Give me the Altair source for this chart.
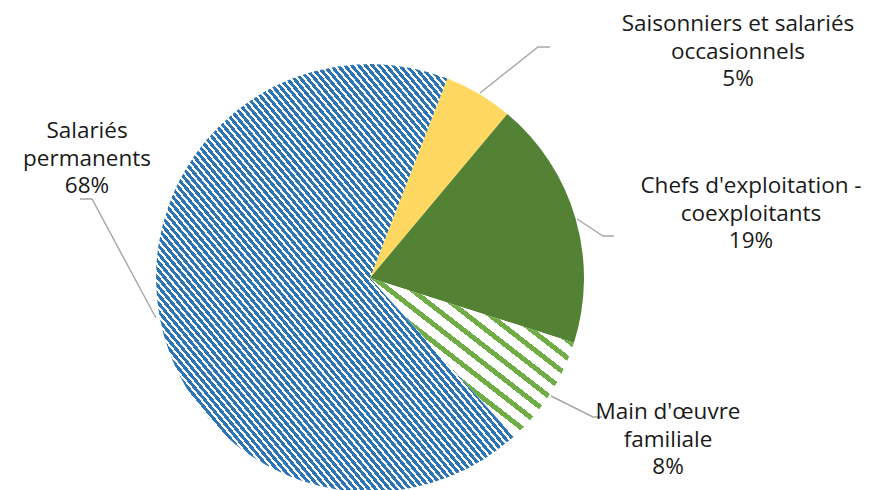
import math
import altair as alt
import pandas as pd

# ---- data ----
categories = ["Saisonniers et salariés occasionnels", "Chefs d'exploitation - coexploitants",
              "Main d'œuvre familiale", "Salariés permanents"]
shares = [5.2, 18.8, 8.4, 67.6]
label_lines = [["Saisonniers et salariés", "occasionnels"],
               ["Chefs d'exploitation -", "coexploitants"],
               ["Main d'œuvre", "familiale"],
               ["Salariés", "permanents"]]

# ---- layout (page pixel coordinates) ----
W, H = 855, 482
CX, CY, R = 370, 278, 214
START = math.radians(21.2)
label_pos = [(738, 24), (751, 186), (668, 412), (87, 131)]
leaders = [
    [(480, 93), (538, 47), (550, 47)],
    [(577, 219), (603, 236), (614, 236)],
    [(551, 396), (593, 417), (602, 417)],
    [(80, 199), (92, 199), (156, 318)],
]

BLUE = "#2E75B6"
YELLOW_MIX = "#FFD861"
DARK_GREEN = "#548235"
LIGHT_GREEN = "#70AD47"


def stripes(color, n, frac):
    stops = []
    for i in range(n):
        a = i / n
        b = (i + frac) / n
        c = (i + 1) / n
        stops += [
            {"offset": a, "color": color},
            {"offset": b, "color": color},
            {"offset": b, "color": "#FFFFFF"},
            {"offset": c, "color": "#FFFFFF"},
        ]
    return {"gradient": "linear", "x1": 0, "y1": 1, "x2": 1, "y2": 0, "stops": stops}


fills = [YELLOW_MIX, DARK_GREEN, stripes(LIGHT_GREEN, 18, 0.36), stripes(BLUE, 104, 0.6)]

pie_df = pd.DataFrame({"cat": categories, "share": shares, "order": range(len(categories))})

lab_rows = []
for i, (lines, (lx, ly)) in enumerate(zip(label_lines, label_pos)):
    pct = f"{round(shares[i])}%"
    lab_rows.append({"text": "\n".join(lines + [pct]), "x": lx, "y": ly})
lab_df = pd.DataFrame(lab_rows)

line_rows = []
for i, pts in enumerate(leaders):
    for j, (px, py) in enumerate(pts):
        line_rows.append({"id": i, "k": j, "x": px, "y": py})
line_df = pd.DataFrame(line_rows)

xs = alt.Scale(domain=[8, 8 + W], range=[0, W])
ys = alt.Scale(domain=[8, 8 + H], range=[0, H])
tscale = alt.Scale(domain=[0, 100], range=[START, START + 2 * math.pi])

base = (
    alt.Chart(pie_df)
    .transform_window(cum="sum(share)", sort=[alt.SortField("order")])
    .transform_calculate(st="datum.cum - datum.share")
)

arcs = []
for i, cat in enumerate(categories):
    arcs.append(
        base.transform_filter(alt.datum.cat == cat)
        .mark_arc(radius=R, fill=fills[i], stroke=None)
        .encode(
            theta=alt.Theta("st:Q", scale=tscale),
            theta2="cum:Q",
            x=alt.value(CX - 8),
            y=alt.value(CY - 8),
        )
    )

lines = (
    alt.Chart(line_df)
    .mark_line(color="#A6A6A6", strokeWidth=1.4)
    .encode(
        x=alt.X("x:Q", scale=xs, axis=None),
        y=alt.Y("y:Q", scale=ys, axis=None),
        detail="id:N",
        order="k:Q",
    )
)

labels = (
    alt.Chart(lab_df)
    .mark_text(font="Open Sans", fontSize=22.5, lineHeight=27.5, lineBreak="\n",
               align="center", baseline="middle", color="#1A1A1A")
    .encode(
        x=alt.X("x:Q", scale=xs, axis=None),
        y=alt.Y("y:Q", scale=ys, axis=None),
        text="text:N",
    )
)

chart = (
    alt.layer(*arcs, lines, labels)
    .properties(width=W, height=H, padding=0, autosize="none")
    .configure_view(stroke=None)
)

chart.save("out.html", embed_options={"renderer": "svg", "actions": False})
